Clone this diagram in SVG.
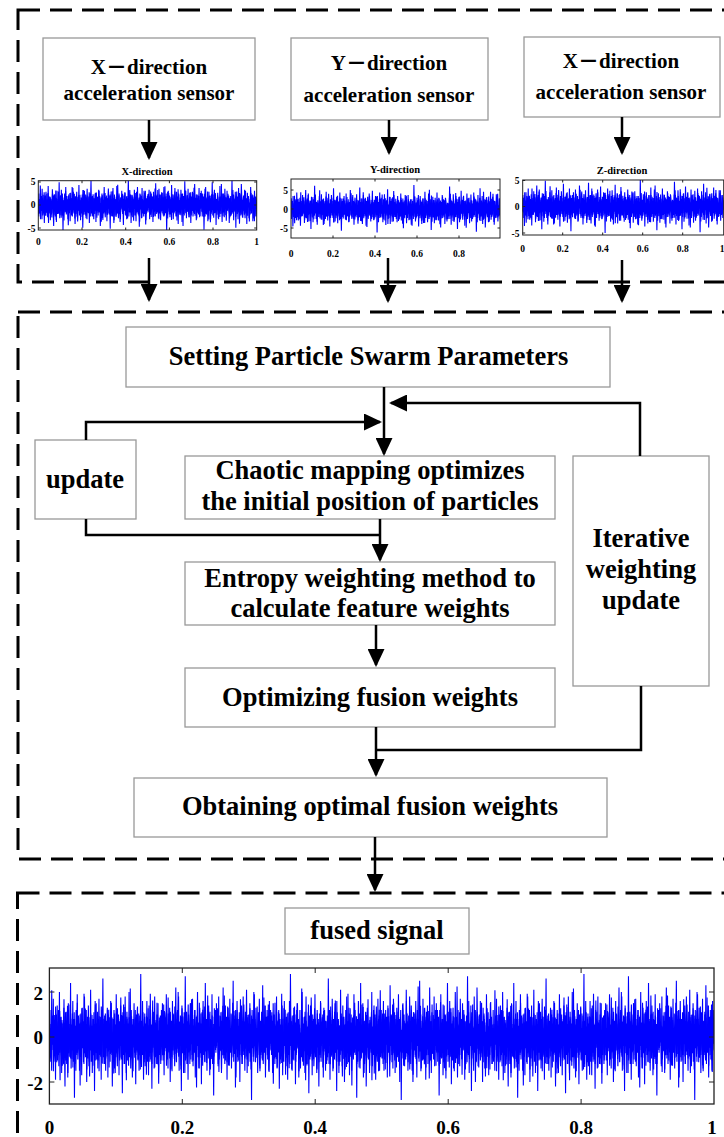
<svg xmlns="http://www.w3.org/2000/svg" xmlns:xlink="http://www.w3.org/1999/xlink" width="724" height="1137" viewBox="0 0 724 1137">
<style>
.box{fill:#fff;stroke:#999;stroke-width:1.3}
.t{font-family:"Liberation Serif","Times New Roman","Noto Sans CJK SC",serif;font-weight:bold;fill:#000;text-anchor:middle}
.m{font-size:26.5px}
.s{font-size:21px}
.ti{font-size:10.5px}
.tk{font-size:9.5px}
.tb{font-size:19px}
.dash{fill:none;stroke:#000;stroke-width:3;stroke-dasharray:22 10}
.c{fill:none;stroke:#000;stroke-width:2.5}
.ax{fill:none;stroke:#222;stroke-width:1}
.nz{fill:none;stroke:#0000ff;stroke-width:1.1;vector-effect:non-scaling-stroke}
</style>
<defs>
<marker id="ah" markerUnits="userSpaceOnUse" markerWidth="18" markerHeight="17" viewBox="0 0 18 17" refX="16" refY="8.5" orient="auto"><path d="M0,0 L18,8.5 L0,17 z" fill="#000"/></marker>
<polyline id="nz" class="nz" points="0,4 1,-12 2,9 3,-3 4,15 5,-8 6,2 7,-17 8,11 9,6 10,-5 11,19 12,-10 13,1 14,-14 15,8 16,-2 17,13 18,-20 19,7 20,3 21,-9 22,16 23,-6 24,10 25,-1 26,-13 27,5 28,22 29,-11 30,0 31,12 32,-7 33,18 34,-15 35,4 36,-4 37,9 38,-24 39,14 40,-3 41,6 42,-16 43,11 44,-8 45,27 46,-5 47,2 48,-12 49,7 50,-19 51,10 52,1 53,-6 54,15 55,-10 56,8 57,-2 58,17 59,-13 60,5 61,-7 62,12 63,-18 64,3 65,9 66,-4 67,20 68,-9 69,0 70,-14 71,13 72,-1 73,6 74,-21 75,11 76,-5 77,16 78,-8 79,2 80,-11 81,24 82,-3 83,7 84,-15 85,10 86,-6 87,14 88,-2 89,-17 90,8 91,4 92,-9 93,19 94,-12 95,1 96,-26 97,9 98,-4 99,12 100,-7 101,15 102,-1 103,5 104,-13 105,18 106,-10 107,3 108,-6 109,11 110,-16 111,7 112,-2 113,22 114,-8 115,0 116,-12 117,14 118,-5 119,9 120,-19 121,6 122,13 123,-3 124,-10 125,17 126,-7 127,4 128,-14 129,10 130,-1 131,25 132,-11 133,8 134,-4 135,12 136,-18 137,2 138,16 139,-9 140,5 141,-6 142,11 143,-20 144,9 145,-2 146,14 147,-12 148,3 149,18 150,-8 151,1 152,-15 153,7 154,-4 155,21 156,-10 157,6 158,-13 159,10 160,-3 161,15 162,-7 163,2 164,-28 165,12 166,-5 167,8 168,-11 169,19 170,-1 171,-9 172,13 173,-6 174,4 175,-16 176,11 177,-2 178,17 179,-14 180,7 181,-8 182,10 183,-4 184,23 185,-12 186,3 187,-7 188,14 189,-18 190,9 191,-1 192,12 193,-10 194,5 195,-15 196,16 197,-3 198,8 199,-6"/>
<clipPath id="cp1"><rect x="38.3" y="180.7" width="218.4" height="49.3"/></clipPath>
<clipPath id="cp2"><rect x="291" y="179" width="209" height="59"/></clipPath>
<clipPath id="cp3"><rect x="522.7" y="180" width="201" height="55"/></clipPath>
<clipPath id="cp4"><rect x="49.4" y="968" width="664.6" height="136"/></clipPath>
</defs>

<g id="frames">
<rect class="dash" x="18" y="10" width="730" height="272"/>
<rect class="dash" x="18" y="312" width="730" height="547"/>
<rect class="dash" x="17.5" y="893" width="730" height="270"/>
</g>

<g id="sensor-x">
<rect class="box" x="43" y="38" width="212" height="82"/>
<text class="t s" x="149" y="74">X－direction</text>
<text class="t s" x="149" y="100">acceleration sensor</text>
</g>
<g id="sensor-y">
<rect class="box" x="291" y="38" width="197" height="82"/>
<text class="t s" x="389" y="70">Y－direction</text>
<text class="t s" x="389" y="102">acceleration sensor</text>
</g>
<g id="sensor-z">
<rect class="box" x="524" y="37" width="196" height="80"/>
<text class="t s" x="621" y="68">X－direction</text>
<text class="t s" x="621" y="99">acceleration sensor</text>
</g>

<g id="plot-x">
<text class="t ti" x="147" y="175">X-direction</text>
<g clip-path="url(#cp1)">
<use href="#nz" transform="translate(38.3,205) scale(0.549,0.95)"/>
<use href="#nz" transform="translate(256.7,205) scale(-0.549,-0.95)"/>
<use href="#nz" transform="translate(93,205) scale(-0.549,0.75)"/>
<use href="#nz" transform="translate(93,205) scale(0.549,-0.75)"/>
<use href="#nz" transform="translate(311.4,205) scale(-0.549,0.75)"/>
<use href="#nz" transform="translate(11.3,205) scale(0.549,-0.6)"/>
<use href="#nz" transform="translate(229.7,205) scale(-0.549,-0.6)"/>
<use href="#nz" transform="translate(229.7,205) scale(0.549,0.6)"/>
</g>
<rect class="ax" x="38.3" y="180.7" width="218.4" height="49.3"/>
<path class="ax" d="M82,230v-2.5M125.7,230v-2.5M169.4,230v-2.5M213,230v-2.5M82,180.7v2.5M125.7,180.7v2.5M169.4,180.7v2.5M213,180.7v2.5M38.3,182h2.5M38.3,205h2.5M38.3,228h2.5M256.7,182h-2.5M256.7,205h-2.5M256.7,228h-2.5"/>
<g class="t tk" style="text-anchor:end">
<text x="35.5" y="185">5</text><text x="35.5" y="208">0</text><text x="35.5" y="231.5">-5</text>
</g>
<g class="t tk">
<text x="38.3" y="245">0</text><text x="82" y="245">0.2</text><text x="125.7" y="245">0.4</text><text x="169.4" y="245">0.6</text><text x="213" y="245">0.8</text><text x="256.7" y="245">1</text>
</g>
</g>

<g id="plot-y">
<text class="t ti" x="395" y="173">Y-direction</text>
<g clip-path="url(#cp2)">
<use href="#nz" transform="translate(291,208.7) scale(0.525,-0.85)"/>
<use href="#nz" transform="translate(500,208.7) scale(-0.525,0.85)"/>
<use href="#nz" transform="translate(343.3,208.7) scale(-0.525,-0.68)"/>
<use href="#nz" transform="translate(343.3,208.7) scale(0.525,0.68)"/>
<use href="#nz" transform="translate(552.3,208.7) scale(-0.525,-0.68)"/>
<use href="#nz" transform="translate(265,208.7) scale(0.525,0.55)"/>
<use href="#nz" transform="translate(474,208.7) scale(-0.525,-0.55)"/>
<use href="#nz" transform="translate(474,208.7) scale(0.525,-0.55)"/>
</g>
<rect class="ax" x="291" y="179" width="209" height="59"/>
<path class="ax" d="M333,238v-2.5M375,238v-2.5M417,238v-2.5M459,238v-2.5M333,179v2.5M375,179v2.5M417,179v2.5M459,179v2.5M291,190h2.5M291,209h2.5M291,228h2.5M500,190h-2.5M500,209h-2.5M500,228h-2.5"/>
<g class="t tk" style="text-anchor:end">
<text x="288" y="193.5">5</text><text x="288" y="212.5">0</text><text x="288" y="231.5">-5</text>
</g>
<g class="t tk">
<text x="291" y="256.5">0</text><text x="333" y="256.5">0.2</text><text x="375" y="256.5">0.4</text><text x="417" y="256.5">0.6</text><text x="459" y="256.5">0.8</text>
</g>
</g>

<g id="plot-z">
<text class="t ti" x="622" y="174">Z-direction</text>
<g clip-path="url(#cp3)">
<use href="#nz" transform="translate(722.7,206.5) scale(-0.5025,0.95)"/>
<use href="#nz" transform="translate(522.7,206.5) scale(0.5025,-0.95)"/>
<use href="#nz" transform="translate(572.7,206.5) scale(-0.5025,-0.75)"/>
<use href="#nz" transform="translate(572.7,206.5) scale(0.5025,0.75)"/>
<use href="#nz" transform="translate(772.7,206.5) scale(-0.5025,-0.75)"/>
<use href="#nz" transform="translate(497.7,206.5) scale(0.5025,0.6)"/>
<use href="#nz" transform="translate(697.7,206.5) scale(-0.5025,-0.6)"/>
<use href="#nz" transform="translate(697.7,206.5) scale(0.5025,-0.6)"/>
</g>
<rect class="ax" x="522.7" y="180" width="201" height="55"/>
<path class="ax" d="M562.7,235v-2.5M602.7,235v-2.5M642.7,235v-2.5M682.7,235v-2.5M562.7,180v2.5M602.7,180v2.5M642.7,180v2.5M682.7,180v2.5M522.7,180.5h2.5M522.7,206.5h2.5M522.7,233h2.5"/>
<g class="t tk" style="text-anchor:end">
<text x="519.5" y="183.5">5</text><text x="519.5" y="209.5">0</text><text x="519.5" y="236.5">-5</text>
</g>
<g class="t tk">
<text x="522.7" y="252">0</text><text x="562.7" y="252">0.2</text><text x="602.7" y="252">0.4</text><text x="642.7" y="252">0.6</text><text x="682.7" y="252">0.8</text><text x="722" y="252">1</text>
</g>
</g>

<g id="setting">
<rect class="box" x="126" y="327" width="484" height="60"/>
<text class="t m" x="368.5" y="365">Setting Particle Swarm Parameters</text>
</g>
<g id="update">
<rect class="box" x="35" y="440" width="101" height="79"/>
<text class="t m" x="85" y="488">update</text>
</g>
<g id="chaotic">
<rect class="box" x="185" y="456" width="370" height="63"/>
<text class="t m" x="370" y="479">Chaotic mapping optimizes</text>
<text class="t m" x="370" y="510">the initial position of particles</text>
</g>
<g id="iterative">
<rect class="box" x="573" y="456" width="136" height="230"/>
<text class="t m" x="641" y="547">Iterative</text>
<text class="t m" x="641" y="578">weighting</text>
<text class="t m" x="641" y="609">update</text>
</g>
<g id="entropy">
<rect class="box" x="185" y="562" width="370" height="63"/>
<text class="t m" x="370" y="587">Entropy weighting method to</text>
<text class="t m" x="370" y="617">calculate feature weights</text>
</g>
<g id="optimizing">
<rect class="box" x="185" y="668" width="370" height="59"/>
<text class="t m" x="370" y="706">Optimizing fusion weights</text>
</g>
<g id="obtaining">
<rect class="box" x="134" y="778" width="473" height="59"/>
<text class="t m" x="370" y="815">Obtaining optimal fusion weights</text>
</g>
<g id="fused">
<rect class="box" x="285" y="908" width="184" height="46"/>
<text class="t m" x="377" y="939">fused signal</text>
</g>

<g id="plot-fused">
<g clip-path="url(#cp4)">
<use href="#nz" transform="translate(49.4,1037) scale(0.557,2.25)"/>
<use href="#nz" transform="translate(160.2,1037) scale(0.557,-2.25)"/>
<use href="#nz" transform="translate(381.8,1037) scale(-0.557,2.25)"/>
<use href="#nz" transform="translate(492.6,1037) scale(-0.557,-2.25)"/>
<use href="#nz" transform="translate(492.6,1037) scale(0.557,2.25)"/>
<use href="#nz" transform="translate(603.4,1037) scale(0.557,-2.25)"/>
<use href="#nz" transform="translate(105.2,1037) scale(-0.557,1.8)"/>
<use href="#nz" transform="translate(105.2,1037) scale(0.557,-1.8)"/>
<use href="#nz" transform="translate(326.8,1037) scale(-0.557,-1.8)"/>
<use href="#nz" transform="translate(326.8,1037) scale(0.557,1.8)"/>
<use href="#nz" transform="translate(548.4,1037) scale(-0.557,1.8)"/>
<use href="#nz" transform="translate(548.4,1037) scale(0.557,-1.8)"/>
<use href="#nz" transform="translate(770,1037) scale(-0.557,-1.8)"/>
<use href="#nz" transform="translate(22.4,1037) scale(0.557,-1.3)"/>
<use href="#nz" transform="translate(244,1037) scale(-0.557,1.3)"/>
<use href="#nz" transform="translate(244,1037) scale(0.557,1.3)"/>
<use href="#nz" transform="translate(465.6,1037) scale(-0.557,-1.3)"/>
<use href="#nz" transform="translate(465.6,1037) scale(0.557,-1.3)"/>
<use href="#nz" transform="translate(687.2,1037) scale(-0.557,1.3)"/>
<use href="#nz" transform="translate(687.2,1037) scale(0.557,1.3)"/>
</g>
<rect class="ax" x="49.4" y="968" width="664.6" height="136" style="stroke-width:1.3"/>
<path class="ax" d="M182.3,1104v-5M315.2,1104v-5M448.2,1104v-5M581.1,1104v-5M182.3,968v5M315.2,968v5M448.2,968v5M581.1,968v5M49.4,992h5M49.4,1037h5M49.4,1082h5M714,992h-5M714,1037h-5M714,1082h-5"/>
<g class="t tb" style="text-anchor:end">
<text x="43" y="999.5">2</text><text x="43" y="1043.5">0</text><text x="43" y="1089.5">-2</text>
</g>
<g class="t tb">
<text x="49.4" y="1134">0</text><text x="182.3" y="1134">0.2</text><text x="315.2" y="1134">0.4</text><text x="448.2" y="1134">0.6</text><text x="581.1" y="1134">0.8</text><text x="712" y="1134">1</text>
</g>
</g>

<g id="connectors">
<line class="c" x1="149" y1="120" x2="149" y2="158" marker-end="url(#ah)"/>
<line class="c" x1="389" y1="120" x2="389" y2="153" marker-end="url(#ah)"/>
<line class="c" x1="622" y1="117" x2="622" y2="153" marker-end="url(#ah)"/>
<line class="c" x1="149" y1="258" x2="149" y2="300" marker-end="url(#ah)"/>
<line class="c" x1="388" y1="258" x2="388" y2="301" marker-end="url(#ah)"/>
<line class="c" x1="622" y1="260" x2="622" y2="301" marker-end="url(#ah)"/>
<line class="c" x1="384" y1="387" x2="384" y2="454" marker-end="url(#ah)"/>
<polyline class="c" points="640,456 640,403 391,403" marker-end="url(#ah)"/>
<polyline class="c" points="86,440 86,422 380,422" marker-end="url(#ah)"/>
<line class="c" x1="380" y1="519" x2="380" y2="560" marker-end="url(#ah)"/>
<polyline class="c" points="86,519 86,535 380,535"/>
<line class="c" x1="376" y1="625" x2="376" y2="665" marker-end="url(#ah)"/>
<line class="c" x1="376" y1="727" x2="376" y2="775" marker-end="url(#ah)"/>
<polyline class="c" points="641,686 641,750 376,750"/>
<line class="c" x1="375" y1="837" x2="375" y2="890" marker-end="url(#ah)"/>
</g>
</svg>
